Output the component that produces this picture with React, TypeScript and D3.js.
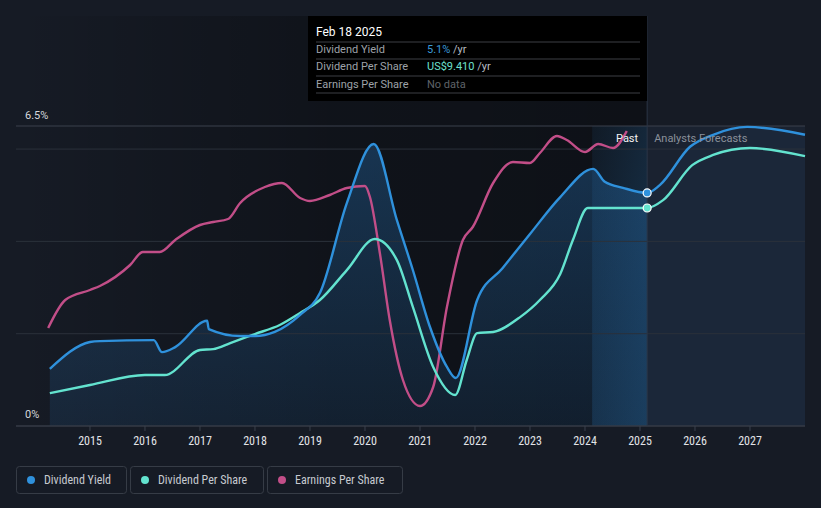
import * as React from 'react';
import * as d3 from 'd3';

// decimal years on the x axis
const dyDates = [2014.27, 2015.0, 2015.18, 2016.16, 2016.31, 2016.55, 2017.13, 2017.16, 2017.73, 2018.0, 2018.36, 2018.82, 2019.18, 2019.67, 2020.16, 2020.58, 2020.87, 2021.18, 2021.49, 2021.65, 2022.04, 2022.5, 2023.0, 2023.55, 2024.15, 2024.36, 2024.69, 2025.13, 2025.36, 2025.91, 2026.33, 2026.95, 2028.0];
const dyValues = [1.24, 1.82, 1.84, 1.86, 1.6, 1.71, 2.28, 2.1, 1.95, 1.95, 2.04, 2.41, 2.88, 4.83, 6.11, 4.46, 3.38, 2.15, 1.28, 1.04, 2.73, 3.42, 4.16, 4.96, 5.57, 5.29, 5.16, 5.05, 5.22, 6.05, 6.31, 6.48, 6.31];

const dpsDates = [2014.27, 2015.0, 2016.0, 2016.36, 2017.0, 2017.24, 2017.55, 2018.0, 2018.45, 2018.82, 2019.18, 2019.67, 2020.18, 2020.58, 2020.87, 2021.24, 2021.64, 2021.85, 2022.04, 2022.33, 2022.82, 2023.18, 2023.55, 2023.78, 2024.05, 2025.13, 2025.42, 2025.95, 2026.33, 2027.0, 2028.0];
const dpsValues = [1.42, 1.77, 2.2, 2.2, 3.28, 3.32, 3.58, 3.97, 4.36, 4.88, 5.44, 6.73, 8.07, 7.16, 5.14, 2.55, 1.34, 2.85, 4.01, 4.06, 4.7, 5.44, 6.56, 8.03, 9.41, 9.41, 9.75, 11.26, 11.7, 12.0, 11.65];

const epsDates = [2014.24, 2014.55, 2015.0, 2015.18, 2015.73, 2015.96, 2016.27, 2016.55, 2017.0, 2017.24, 2017.51, 2017.73, 2018.18, 2018.49, 2018.82, 2019.0, 2019.36, 2019.67, 2020.0, 2020.09, 2020.27, 2020.45, 2020.69, 2021.0, 2021.24, 2021.49, 2021.78, 2021.96, 2022.33, 2022.69, 2023.0, 2023.18, 2023.49, 2023.67, 2024.0, 2024.24, 2024.51, 2024.76];
const epsValues = [9.8, 12.6, 13.6, 14.0, 16.1, 17.4, 17.4, 18.6, 20.1, 20.4, 20.7, 22.3, 23.9, 24.3, 22.8, 22.5, 23.1, 23.8, 24.0, 22.9, 17.3, 10.6, 4.6, 2.0, 3.9, 11.9, 18.6, 19.9, 24.3, 26.4, 26.3, 27.3, 29.0, 28.6, 27.4, 28.2, 27.8, 29.5];

const yearTicks = [2015, 2016, 2017, 2018, 2019, 2020, 2021, 2022, 2023, 2024, 2025, 2026, 2027];
const gridValues = [0, 2, 4, 6];
const todayDate = 2025.13;
const legendItems = ['Dividend Yield', 'Dividend Per Share', 'Earnings Per Share'];

const W = 821;
const H = 508;
const C_DY = '#2f91dc';
const C_DPS = '#63e3cf';
const C_EPS = '#c24e88';
const BG = '#161b25';
const FONT = 'Roboto, "Noto Sans", sans-serif';
const NARROW = '"Roboto Condensed", "Liberation Sans Narrow", "DejaVu Sans Condensed", Roboto, sans-serif';

type Pt = [number, number];
const zip = (a: number[], b: number[]): Pt[] => a.map((d, i) => [d, b[i]]);

export default function App() {
  React.useEffect(() => {
    document.body.style.margin = '0';
    document.body.style.background = BG;
  }, []);

  const x = d3.scaleLinear().domain([2013.655, 2028]).range([16, 805]);
  const yDy = d3.scaleLinear().domain([0, 6.5]).range([426, 126]);
  const yDps = d3.scaleLinear().domain([0, 12.95]).range([426, 126]);
  const yEps = d3.scaleLinear().domain([0, 30]).range([426, 126]);

  const dy = zip(dyDates, dyValues);
  const dps = zip(dpsDates, dpsValues);
  const eps = zip(epsDates, epsValues);

  const lineDy = d3.line<Pt>().x(d => x(d[0])).y(d => yDy(d[1])).curve(d3.curveMonotoneX);
  const lineDps = d3.line<Pt>().x(d => x(d[0])).y(d => yDps(d[1])).curve(d3.curveMonotoneX);
  const lineEps = d3.line<Pt>().x(d => x(d[0])).y(d => yEps(d[1])).curve(d3.curveMonotoneX);
  const areaDy = d3.area<Pt>().x(d => x(d[0])).y0(yDy(0)).y1(d => yDy(d[1])).curve(d3.curveMonotoneX);

  const xToday = x(todayDate);
  const xBand = x(todayDate - 1);
  const yTop = yDy(6.5);
  const yBase = yDy(0);
  const dyToday = dyValues[dyDates.indexOf(todayDate)];
  const dpsToday = dpsValues[dpsDates.indexOf(todayDate)];

  const legendW = [110, 133, 135];
  let lx = 16;

  return (
    <div style={{ position: 'absolute', left: 0, top: 0 }}>
      <svg width={W} height={H} style={{ display: 'block', fontFamily: FONT }}>
        <defs>
          <linearGradient id="pastShade" x1="0" x2="1" y1="0" y2="0">
            <stop offset="0" stopColor="#000" stopOpacity="0" />
            <stop offset="0.5" stopColor="#000" stopOpacity="0.3" />
            <stop offset="1" stopColor="#000" stopOpacity="0.38" />
          </linearGradient>
          <linearGradient id="areaFill" x1="0" x2="0" y1="0" y2="1">
            <stop offset="0" stopColor="#2a7fcc" stopOpacity="0.32" />
            <stop offset="1" stopColor="#2a7fcc" stopOpacity="0.12" />
          </linearGradient>
          <linearGradient id="bandFill" x1="0" x2="1" y1="0" y2="1">
            <stop offset="0" stopColor="#2f86d0" stopOpacity="0.08" />
            <stop offset="1" stopColor="#2f86d0" stopOpacity="0.3" />
          </linearGradient>
          <clipPath id="pastClip">
            <rect x={16} y={0} width={xToday - 16} height={yBase} />
          </clipPath>
          <clipPath id="futClip">
            <rect x={xToday} y={0} width={805 - xToday} height={yBase} />
          </clipPath>
        </defs>

        <rect x={0} y={0} width={W} height={H} fill={BG} />
        <rect x={16} y={16} width={xToday - 16} height={yBase - 16} fill="url(#pastShade)" />
        <rect x={xToday} y={yTop} width={805 - xToday} height={yBase - yTop} fill="#1a2230" />

        <path d={areaDy(dy) || ''} fill="url(#areaFill)" clipPath="url(#pastClip)" />
        <path d={areaDy(dy) || ''} fill="#1f3a5c" fillOpacity={0.22} clipPath="url(#futClip)" />
        <rect x={xBand} y={yTop} width={xToday - xBand} height={yBase - yTop} fill="url(#bandFill)" />

        {gridValues.map(v => (
          <line key={v} x1={16} x2={805} y1={yDy(v)} y2={yDy(v)} stroke="#2b313b" strokeWidth={1} />
        ))}
        <line x1={16} x2={805} y1={yTop} y2={yTop} stroke="#3a414c" strokeWidth={1} />
        <line x1={16} x2={805} y1={yBase} y2={yBase} stroke="#3a414c" strokeWidth={1} />
        <line x1={xToday} x2={xToday} y1={16} y2={yBase} stroke="#2a3646" strokeWidth={1} />

        {yearTicks.map(t => (
          <g key={t} transform={`translate(${x(t)},${yBase})`}>
            <line y1={0} y2={5} stroke="#3a414c" />
            <text y={19} textAnchor="middle" fill="#e2e4e8" fontSize={12} fontFamily={NARROW}>{t}</text>
          </g>
        ))}

        <text x={25} y={119} fill="#d6d8dc" fontSize={11}>6.5%</text>
        <text x={25} y={418} fill="#d6d8dc" fontSize={11}>0%</text>

        <path d={lineEps(eps) || ''} fill="none" stroke={C_EPS} strokeWidth={2.4} />
        <path d={lineDps(dps) || ''} fill="none" stroke={C_DPS} strokeWidth={2.4} />
        <path d={lineDy(dy) || ''} fill="none" stroke={C_DY} strokeWidth={2.4} />

        <text x={xToday - 9} y={142} textAnchor="end" fill="#f2f2f2" fontSize={11}>Past</text>
        <text x={xToday + 7} y={142} fill="#8b919b" fontSize={11}>Analysts Forecasts</text>

        <circle cx={xToday} cy={yDy(dyToday)} r={4} fill={C_DY} stroke="#fff" strokeWidth={1.2} />
        <circle cx={xToday} cy={yDps(dpsToday)} r={4} fill={C_DPS} stroke="#fff" strokeWidth={1.2} />

        <g>
          <rect x={308} y={16} width={xToday - 308} height={85} fill="#000" />
          <text x={316} y={36} fill="#fff" fontSize={12}>Feb 18 2025</text>
          {[42, 59, 76, 93].map(yy => (
            <line key={yy} x1={316} x2={640} y1={yy} y2={yy} stroke="#3c3f44" strokeWidth={1} />
          ))}
          <text x={316} y={53} fill="#9ea2a8" fontSize={11}>Dividend Yield</text>
          <text x={427} y={53} fontSize={11}>
            <tspan fill="#3a98d8">5.1%</tspan>
            <tspan fill="#b8bcc2"> /yr</tspan>
          </text>
          <text x={316} y={70} fill="#9ea2a8" fontSize={11}>Dividend Per Share</text>
          <text x={427} y={70} fontSize={11}>
            <tspan fill="#6de0cf">US${dpsToday.toFixed(3)}</tspan>
            <tspan fill="#b8bcc2"> /yr</tspan>
          </text>
          <text x={316} y={88} fill="#9ea2a8" fontSize={11}>Earnings Per Share</text>
          <text x={427} y={88} fill="#5f6369" fontSize={11}>No data</text>
        </g>

        {legendItems.map((name, i) => {
          const color = [C_DY, C_DPS, C_EPS][i];
          const bx = lx;
          lx += legendW[i] + 4;
          return (
            <g key={name} transform={`translate(${bx},466)`}>
              <rect x={0.5} y={0.5} width={legendW[i]} height={27} rx={3} fill={BG} stroke="#363c46" />
              <circle cx={15} cy={14} r={4} fill={color} />
              <text x={28} y={18} fill="#c6cad0" fontSize={12} fontFamily={NARROW}>{name}</text>
            </g>
          );
        })}
      </svg>
    </div>
  );
}
